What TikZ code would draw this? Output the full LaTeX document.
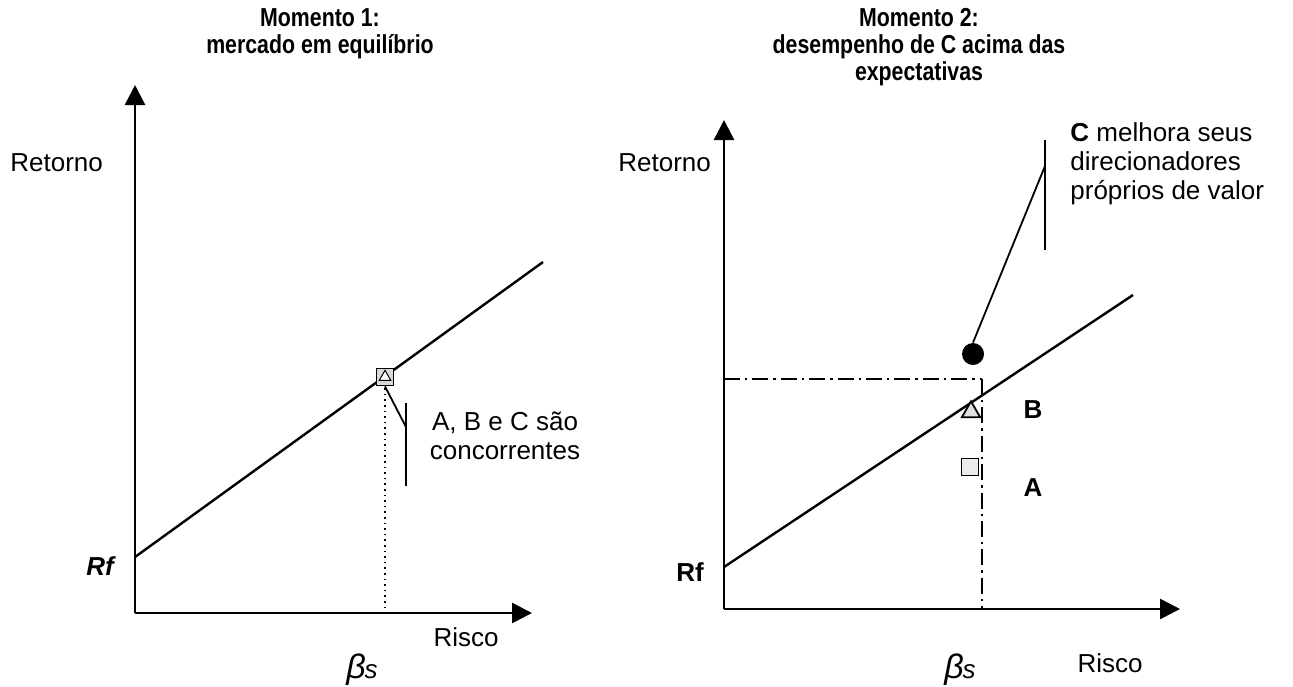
\documentclass[tikz,border=0pt]{standalone}
\usepackage{fontspec}
\setmainfont{Liberation Sans}
\newfontfamily\titlefont[FakeStretch=0.82]{Liberation Sans}
\usetikzlibrary{arrows.meta,shapes.geometric}
\tikzset{
  axis/.style={line width=1.3pt,-{Triangle[length=10pt,width=10pt]}},
  sml/.style={line width=1.2pt},
  callout/.style={line width=0.9pt},
  dashdot/.style={line width=0.9pt,dash pattern=on 8pt off 2.5pt on 1.2pt off 2.5pt},
  dotline/.style={line width=0.8pt,dotted},
  lbl/.style={font=\fontsize{13}{14.5}\selectfont,inner sep=0pt},
  blbl/.style={font=\fontsize{13}{14.5}\selectfont\bfseries,inner sep=0pt},
  ttl/.style={font=\titlefont\bfseries\fontsize{13}{13.5}\selectfont,align=center,inner sep=0pt},
  betalbl/.style={inner sep=0pt,font=\fontsize{17}{19}\selectfont\itshape},
  asset/.style={draw,line width=0.9pt,minimum size=8.5pt,inner sep=0pt},
  tri/.style={draw,isosceles triangle,isosceles triangle apex angle=60,shape border rotate=90,inner sep=0pt},
}
\begin{document}
\begin{tikzpicture}[x=0.5pt,y=-0.5pt]
\useasboundingbox (0,0) rectangle (1293,686);
% ---------- titles
\node[ttl] (t1) at (320,34) {Momento 1:\\mercado em equilíbrio};
\node[ttl] (t2) at (919,47) {Momento 2:\\desempenho de C acima das\\expectativas};
% ---------- left chart
\coordinate (O1) at (135,613);
\coordinate (Y1) at (135,85);
\coordinate (X1) at (532,613);
\draw[axis] (O1) -- (Y1);
\draw[axis] (O1) -- (X1);
\coordinate (L1a) at (135,557);
\coordinate (L1b) at (543,262);
\draw[sml] (L1a) -- (L1b);
\coordinate (P1) at (385,377);
\coordinate (P1foot) at (385,613);
\draw[dotline] (P1) -- (P1foot);
\node[asset,fill=black!15] (sq1) at (P1) {};
\node[tri,minimum size=5pt,line width=0.5pt,fill=white] (tr1) at (P1) {};
\coordinate (c1a) at (406,427);
\coordinate (c1t) at (406,403);
\coordinate (c1b) at (406,486);
\draw[callout] (sq1.south) -- (c1a);
\draw[callout] (c1t) -- (c1b);
\node[lbl,align=center] (abc) at (505,436) {A, B e C são\\concorrentes};
\node[lbl,anchor=west] (ret1) at (10,163) {Retorno};
\node[lbl,font=\fontsize{13}{14.5}\selectfont\bfseries\itshape] (rf1) at (100,566) {Rf};
\node[lbl] (ris1) at (466,637) {Risco};
\node[betalbl] (b1) at (362,670) {β\kern-0.5pt{\fontsize{13}{14}\selectfont s}};
% ---------- right chart
\coordinate (O2) at (724,609);
\coordinate (Y2) at (724,120);
\coordinate (X2) at (1180,609);
\draw[axis] (O2) -- (Y2);
\draw[axis] (O2) -- (X2);
\coordinate (L2a) at (724,567);
\coordinate (L2b) at (1133,295);
\draw[sml] (L2a) -- (L2b);
\coordinate (E2) at (982,379);
\coordinate (E2y) at (724,379);
\coordinate (E2x) at (982,609);
\draw[dashdot] (E2y) -- (E2);
\draw[dashdot] (E2) -- (E2x);
\node[circle,fill=black,minimum size=11pt,inner sep=0pt] (cc) at (973,354) {};
\node[tri,fill=black!12,minimum size=8pt,line width=0.9pt] (bb) at (971,412) {};
\node[asset,fill=black!8] (aa) at (970,467) {};
\node[blbl] (blbl) at (1033,410) {B};
\node[blbl] (albl) at (1033,488) {A};
\coordinate (c2a) at (1045,166);
\coordinate (c2t) at (1045,140);
\coordinate (c2b) at (1045,250);
\draw[callout] (cc.north) -- (c2a);
\draw[callout] (c2t) -- (c2b);
\node[lbl,anchor=west,align=left] (ctext) at (1070,164) {\textbf{C} melhora seus\\direcionadores\\próprios de valor};
\node[lbl,anchor=west] (ret2) at (618,163) {Retorno};
\node[blbl] (rf2) at (690,572) {Rf};
\node[lbl] (ris2) at (1110,663) {Risco};
\node[betalbl] (b2) at (960,670) {β\kern-0.5pt{\fontsize{13}{14}\selectfont s}};
\end{tikzpicture}
\end{document}
